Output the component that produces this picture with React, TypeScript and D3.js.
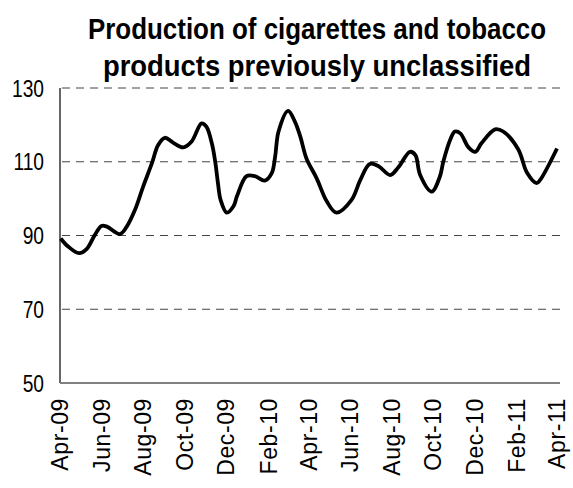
import React, { useLayoutEffect, useRef, useState } from "react";
import * as d3 from "d3";

const TITLE_LINES = ["Production of cigarettes and tobacco", "products previously unclassified"];
const TITLE_WIDTHS = [458, 428];

// days since 1 Apr 2009
const DAYS = [
  1, 12, 28, 39, 51, 61, 69, 88, 98, 110, 122, 135, 144, 154, 166, 181, 193, 208, 215, 223,
  228, 232, 236, 245, 255, 260, 274, 286, 301, 311, 316, 321, 335, 345, 353, 362, 377, 392,
  406, 428, 441, 455, 468, 485, 497, 514, 522, 529, 546, 558, 563, 573, 580, 588, 600, 610,
  619, 639, 651, 673, 686, 700, 705, 730,
];
const VALUES = [
  89.2, 87.0, 85.2, 86.3, 90.1, 92.6, 92.4, 90.4, 92.4, 96.9, 103.2, 109.6, 114.5, 116.5,
  115.2, 113.9, 115.4, 120.4, 119.5, 115.0, 110.0, 104.2, 99.6, 96.2, 98.0, 100.7, 106.1,
  106.1, 104.9, 106.9, 111.4, 118.2, 123.8, 120.9, 116.8, 110.9, 105.5, 99.2, 96.2, 99.6,
  105.0, 109.4, 108.8, 106.4, 108.5, 112.7, 111.8, 106.4, 101.9, 106.0, 110.0, 115.9, 118.2,
  117.7, 113.9, 112.7, 115.0, 118.8, 118.2, 113.4, 107.0, 104.2, 105.0, 113.6,
];
const X_TICK_LABELS = [
  "Apr-09", "Jun-09", "Aug-09", "Oct-09", "Dec-09", "Feb-10", "Apr-10",
  "Jun-10", "Aug-10", "Oct-10", "Dec-10", "Feb-11", "Apr-11",
];
const Y_TICKS = [50, 70, 90, 110, 130];

function FitText({ text, cx, y, width, fontSize, fontFamily }: any) {
  const ref = useRef<SVGTextElement>(null);
  const [sx, setSx] = useState(0.76);
  useLayoutEffect(() => {
    if (ref.current) {
      const len = ref.current.getComputedTextLength();
      if (len > 0) setSx(width / len);
    }
  }, [text, width]);
  return (
    <text
      ref={ref}
      transform={`translate(${cx},${y}) scale(${sx},1)`}
      textAnchor="middle"
      fontFamily={fontFamily}
      fontWeight="bold"
      fontSize={fontSize}
    >
      {text}
    </text>
  );
}

export default function App() {
  const W = 573;
  const H = 488;
  const left = 60;
  const right = 560;
  const top = 88;
  const bottom = 383;

  const start = new Date(2009, 3, 1);
  const end = new Date(2011, 3, 1);
  const x = d3.scaleTime().domain([start, end]).range([left, 557]);
  const y = d3.scaleLinear().domain([50, 130]).range([bottom, top]);

  const pts: [Date, number][] = DAYS.map((d, i) => [new Date(2009, 3, 1 + d), VALUES[i]]);
  const line = d3
    .line<[Date, number]>()
    .x((p) => x(p[0]))
    .y((p) => y(p[1]))
    .curve(d3.curveCatmullRom.alpha(0.5));

  const font = "'Liberation Sans', Arial, sans-serif";

  return (
    <svg width={W} height={H} style={{ position: "absolute", left: 0, top: 0 }}>
      <rect width={W} height={H} fill="#fff" />
      <FitText text={TITLE_LINES[0]} cx={317} y={39} width={TITLE_WIDTHS[0]} fontSize={30} fontFamily={font} />
      <FitText text={TITLE_LINES[1]} cx={317} y={76} width={TITLE_WIDTHS[1]} fontSize={30} fontFamily={font} />

      {Y_TICKS.filter((t) => t > 50).map((t) => (
        <line
          key={"g" + t}
          x1={left + 2}
          x2={right}
          y1={y(t)}
          y2={y(t)}
          stroke="#444"
          strokeWidth={1}
          strokeDasharray="8,6"
        />
      ))}

      <line x1={left} x2={left} y1={top} y2={bottom} stroke="#000" strokeWidth={1.2} />
      <line x1={left} x2={right} y1={bottom} y2={bottom} stroke="#808080" strokeWidth={2} />

      {Y_TICKS.map((t) => (
        <text
          key={"y" + t}
          transform={`translate(44,${y(t)}) scale(0.8,1)`}
          dy="0.36em"
          textAnchor="end"
          fontFamily={font}
          fontSize={24}
        >
          {t}
        </text>
      ))}

      {X_TICK_LABELS.map((lab, i) => {
        const xx = x(d3.timeMonth.offset(start, 2 * i));
        return (
          <text
            key={lab}
            transform={`translate(${xx},398) rotate(-90)`}
            dy="0.36em"
            textAnchor="end"
            fontFamily={font}
            fontSize={23}
            letterSpacing={0.6}
          >
            {lab}
          </text>
        );
      })}

      <path d={line(pts) || ""} fill="none" stroke="#000" strokeWidth={3.8} strokeLinejoin="round" />
    </svg>
  );
}
